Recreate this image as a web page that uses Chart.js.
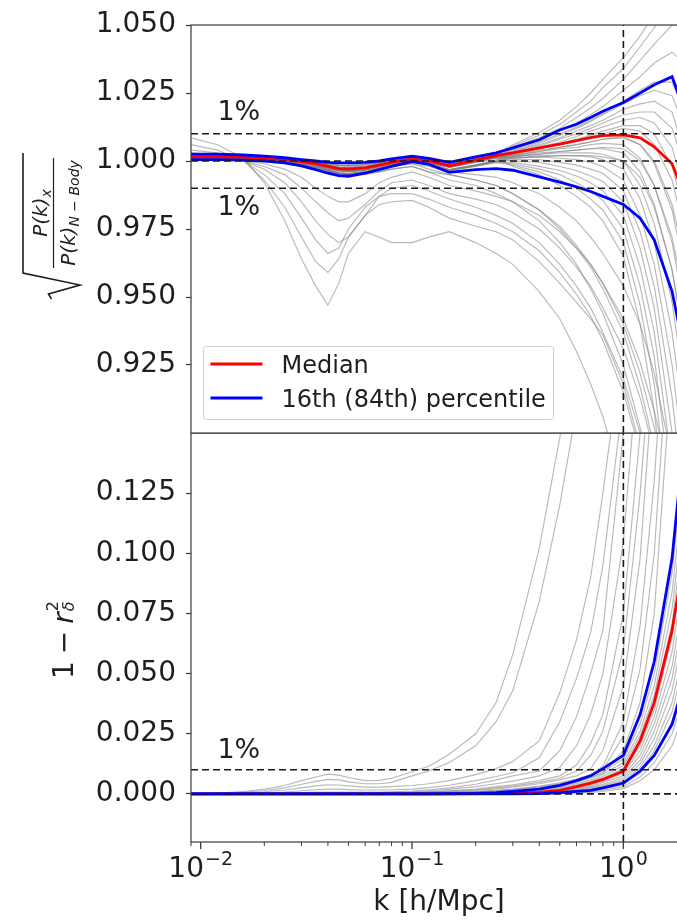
<!DOCTYPE html>
<html>
<head>
<meta charset="utf-8">
<script src="https://cdn.jsdelivr.net/npm/chart.js@4.4.0/dist/chart.umd.min.js"></script>
<style>
  html, body { margin: 0; padding: 0; background: #fff; overflow: hidden; }
  #wrap { position: relative; width: 677px; height: 920px; overflow: hidden; }
  canvas { position: absolute; left: 0; }
</style>
</head>
<body>
<div id="wrap">
  <canvas id="ratioChart" width="690" height="434" style="top:0"></canvas>
  <canvas id="corrChart" width="690" height="487" style="top:433px"></canvas>
</div>
<script>
// shared k grid [h/Mpc] for every curve
const kGrid = [0.009, 0.012, 0.016, 0.02, 0.025, 0.03, 0.035, 0.04, 0.045, 0.05, 0.06, 0.07, 0.08, 0.1, 0.12,
               0.15, 0.2, 0.25, 0.3, 0.4, 0.5, 0.6, 0.7, 0.8, 1.0, 1.2, 1.4, 1.7, 2.0];
const kMin = 0.009;
const kMax = 2.0;
const kRef = 1.0;
const xMajorTicks = [0.01, 0.1, 1];

// top panel: sqrt(P_x / P_Nbody)
const medianTop = [1.0015,1.0015,1.0013,1.0010,1.0005, 0.9998,0.9990,0.9980,0.9972,0.9970, 0.9975,0.9985,0.9995,1.0008,1.0000,
                   0.9982,1.0003,1.0020,1.0030,1.0048, 1.0062,1.0075,1.0086,1.0093,1.0096, 1.0085,1.0052,0.9990,0.9850];
const p84Top = [1.0025,1.0025,1.0022,1.0018,1.0012, 1.0005,1.0000,0.9995,0.9993,0.9993, 0.9995,1.0000,1.0008,1.0018,1.0010,
                0.9995,1.0015,1.0030,1.0048,1.0078, 1.0114,1.0135,1.0160,1.0183,1.0215, 1.0250,1.0280,1.0310,1.0160];
const p16Top = [1.0005,1.0005,1.0003,1.0000,0.9993, 0.9982,0.9968,0.9955,0.9946,0.9944, 0.9955,0.9968,0.9980,0.9998,0.9988,
                0.9958,0.9968,0.9972,0.9966,0.9942, 0.9922,0.9905,0.9888,0.9870,0.9840, 0.9790,0.9710,0.9520,0.9250];

const greyTop = [
  // runs with a dip near k ~ 0.04
  [1.0085,1.006,1.001,0.992,0.978, 0.964,0.954,0.947,0.955,0.966, 0.974,0.972,0.970,0.970,0.972, 0.974,0.970,0.966,0.962,0.952, 0.942,0.930,0.918,0.906,0.880, 0.850,0.820,0.780,0.740],
  [1.006,1.004,1.0,0.993,0.983, 0.972,0.963,0.959,0.964,0.972, 0.980,0.984,0.985,0.9855,0.983, 0.979,0.976,0.974,0.971,0.963, 0.955,0.948,0.942,0.936,0.918, 0.895,0.870,0.830,0.790],
  [1.004,1.003,1.0,0.995,0.988, 0.979,0.971,0.966,0.968,0.975, 0.983,0.987,0.988,0.988,0.986, 0.983,0.980,0.977,0.974,0.967, 0.959,0.951,0.943,0.934,0.915, 0.893,0.870,0.835,0.800],
  [1.003,1.002,1.0,0.997,0.992, 0.985,0.978,0.973,0.970,0.972, 0.980,0.987,0.990,0.991,0.989, 0.986,0.983,0.980,0.977,0.970, 0.962,0.954,0.946,0.937,0.920, 0.900,0.878,0.845,0.810],
  [1.002,1.002,1.0,0.998,0.995, 0.990,0.985,0.981,0.978,0.979, 0.984,0.989,0.992,0.993,0.991, 0.988,0.986,0.984,0.981,0.975, 0.968,0.961,0.954,0.946,0.931, 0.913,0.893,0.862,0.830],
  [1.002,1.001,1.0,0.999,0.997, 0.994,0.990,0.987,0.985,0.985, 0.988,0.992,0.994,0.996,0.994, 0.991,0.989,0.987,0.985,0.980, 0.974,0.968,0.962,0.955,0.942, 0.926,0.908,0.880,0.850],
  // runs falling away from k ~ 0.15
  [1.002,1.002,1.001,1.001,1.0, 0.999,0.998,0.997,0.996,0.996, 0.996,0.996,0.997,0.998,0.996, 0.993,0.991,0.988,0.985,0.978, 0.970,0.962,0.953,0.944,0.925, 0.902,0.880,0.845,0.810],
  [1.002,1.002,1.001,1.001,1.0, 0.999,0.998,0.997,0.997,0.997, 0.997,0.998,0.998,0.999,0.997, 0.995,0.993,0.991,0.988,0.982, 0.975,0.968,0.961,0.953,0.937, 0.917,0.895,0.860,0.825],
  [1.001,1.001,1.001,1.0,0.999, 0.998,0.997,0.996,0.995,0.995, 0.995,0.996,0.997,0.998,0.996, 0.995,0.993,0.991,0.988,0.982, 0.976,0.969,0.962,0.955,0.940, 0.922,0.902,0.870,0.835],
  [1.0015,1.0015,1.001,1.0005,1.0, 0.999,0.998,0.997,0.9965,0.9965, 0.997,0.998,0.998,0.999,0.998, 0.996,0.995,0.994,0.992,0.988, 0.983,0.978,0.972,0.966,0.954, 0.940,0.922,0.890,0.855],
  // the main fan
  [1.002,1.002,1.0018,1.0015,1.001, 1.0004,0.9997,0.999,0.9985,0.9984, 0.9988,0.9995,1.0003,1.0015,1.0007, 0.9992,1.0012,1.0027,1.006,1.0105, 1.015,1.020,1.025,1.030,1.038, 1.046,1.054,1.064,1.072],
  [1.0018,1.0018,1.0016,1.0013,1.0008, 1.0001,0.9993,0.9984,0.9977,0.9976, 0.998,0.999,0.9999,1.0011,1.0003, 0.9987,1.0006,1.0022,1.0055,1.0095, 1.0135,1.018,1.022,1.027,1.034, 1.042,1.049,1.058,1.063],
  [1.0021,1.002,1.0019,1.0015,1.001, 1.0003,0.9996,0.9989,0.9984,0.9983, 0.9987,0.9994,1.0002,1.0014,1.0006, 0.9991,1.0011,1.0025,1.005,1.0085, 1.012,1.016,1.0195,1.023,1.030, 1.037,1.043,1.050,1.050],
  [1.0012,1.0012,1.001,1.0007,1.0002, 0.9994,0.9985,0.9975,0.9966,0.9963, 0.9968,0.998,0.9992,1.0006,0.9997, 0.9978,0.9998,1.0015,1.0045,1.0075, 1.011,1.014,1.017,1.020,1.026, 1.031,1.036,1.040,1.035],
  [1.0017,1.0017,1.0015,1.0012,1.0007, 1.0,0.9992,0.9983,0.9976,0.9975, 0.9979,0.9989,0.9998,1.001,1.0002, 0.9986,1.0005,1.002,1.004,1.007, 1.010,1.0125,1.015,1.0175,1.022, 1.026,1.029,1.029,1.015],
  [1.0013,1.0013,1.0011,1.0008,1.0003, 0.9995,0.9986,0.9976,0.9967,0.9964, 0.9969,0.9981,0.9993,1.0007,0.9998, 0.9979,0.9999,1.0015,1.0035,1.006, 1.0085,1.011,1.013,1.015,1.019, 1.021,1.022,1.018,1.0],
  [1.0019,1.0019,1.0017,1.0014,1.0009, 1.0002,0.9995,0.9987,0.9981,0.998, 0.9985,0.9993,1.0001,1.0013,1.0005, 0.999,1.001,1.0024,1.003,1.005, 1.007,1.009,1.011,1.0125,1.015, 1.016,1.014,1.005,0.985],
  [1.0008,1.0008,1.0006,1.0003,0.9997, 0.9988,0.9978,0.9966,0.9956,0.9953, 0.996,0.9973,0.9986,1.0002,0.9992, 0.9968,0.9985,1.0,1.0025,1.0045, 1.006,1.0075,1.009,1.010,1.012, 1.011,1.006,0.993,0.97],
  [1.0016,1.0016,1.0014,1.0011,1.0006, 0.9999,0.9991,0.9982,0.9975,0.9974, 0.9978,0.9988,0.9997,1.0009,1.0001, 0.9985,1.0004,1.0019,1.002,1.004, 1.005,1.006,1.007,1.008,1.009, 1.006,0.999,0.982,0.955],
  [1.0011,1.0011,1.0009,1.0006,1.0001, 0.9993,0.9984,0.9974,0.9965,0.9962, 0.9967,0.9979,0.9991,1.0005,0.9996, 0.9977,0.9997,1.0013,1.002,1.0035, 1.0045,1.005,1.006,1.0065,1.006, 1.001,0.991,0.970,0.940],
  [1.0007,1.0007,1.0005,1.0002,0.9996, 0.9987,0.9977,0.9965,0.9955,0.9952, 0.9959,0.9972,0.9985,1.0001,0.9991, 0.9967,0.9984,0.9999,1.0015,1.003, 1.0035,1.004,1.0045,1.0045,1.003, 0.996,0.984,0.960,0.925],
  [1.0015,1.0015,1.0013,1.001,1.0005, 0.9998,0.999,0.998,0.9972,0.997, 0.9975,0.9985,0.9995,1.0008,1.0, 0.9982,1.0002,1.0016,1.0015,1.0025, 1.003,1.003,1.003,1.0025,1.0, 0.991,0.977,0.948,0.910],
  [1.001,1.001,1.0008,1.0005,1.0, 0.9992,0.9983,0.9973,0.9964,0.9961, 0.9966,0.9978,0.999,1.0004,0.9995, 0.9976,0.9996,1.0011,1.001,1.002, 1.002,1.002,1.0015,1.0005,0.997, 0.986,0.970,0.937,0.895],
  [1.0014,1.0014,1.0012,1.0009,1.0004, 0.9997,0.9989,0.9979,0.9971,0.9969, 0.9974,0.9984,0.9994,1.0007,0.9999, 0.9981,1.0,1.0014,1.001,1.0015, 1.001,1.0005,0.9995,0.998,0.993, 0.980,0.962,0.925,0.880],
  [1.0006,1.0006,1.0004,1.0001,0.9995, 0.9986,0.9976,0.9964,0.9954,0.9951, 0.9958,0.9971,0.9984,1.0,0.999, 0.9966,0.9983,0.9998,1.0005,1.0005, 0.9995,0.9985,0.997,0.9955,0.989, 0.974,0.954,0.913,0.865],
  [1.0011,1.0011,1.0009,1.0006,1.0001, 0.9993,0.9984,0.9974,0.9965,0.9962, 0.9967,0.9979,0.9991,1.0005,0.9996, 0.9977,0.9997,1.0012,1.0,0.9995, 0.998,0.9965,0.9945,0.9925,0.985, 0.968,0.946,0.900,0.850],
  [1.0005,1.0005,1.0003,1.0,0.9994, 0.9985,0.9975,0.9963,0.9953,0.995, 0.9957,0.997,0.9983,0.9999,0.9989, 0.9965,0.9982,0.9996,0.9995,0.998, 0.9965,0.9945,0.992,0.989,0.980, 0.961,0.937,0.888,0.835],
  [1.0009,1.0009,1.0007,1.0004,0.9998, 0.9989,0.9979,0.9967,0.9957,0.9954, 0.9961,0.9974,0.9987,1.0003,0.9993, 0.9969,0.9986,0.9999,0.999,0.997, 0.995,0.992,0.989,0.9855,0.975, 0.954,0.928,0.875,0.820],
  [1.0004,1.0004,1.0002,0.9999,0.9993, 0.9984,0.9974,0.9962,0.9952,0.9949, 0.9956,0.9969,0.9982,0.9998,0.9988, 0.9964,0.998,0.9994,0.9985,0.996, 0.993,0.990,0.986,0.982,0.970, 0.947,0.918,0.862,0.800],
  [1.001,1.001,1.0008,1.0005,1.0, 0.9992,0.9983,0.9973,0.9964,0.9961, 0.9966,0.9978,0.999,1.0004,0.9995, 0.9976,0.9995,1.001,0.998,0.995, 0.991,0.987,0.983,0.978,0.965, 0.940,0.908,0.850,0.790],
  [1.0018,1.0018,1.0016,1.0013,1.0008, 1.0001,0.9993,0.9984,0.9977,0.9976, 0.998,0.999,0.9999,1.0011,1.0003, 0.9987,1.0006,1.0022,1.0035,1.0065, 1.0095,1.012,1.0145,1.017,1.021, 1.024,1.026,1.024,1.010],
  [1.002,1.002,1.0018,1.0015,1.001, 1.0004,0.9997,0.999,0.9985,0.9984, 0.9988,0.9995,1.0003,1.0015,1.0007, 0.9992,1.0012,1.0024,1.003,1.0055, 1.008,1.010,1.012,1.014,1.017, 1.018,1.018,1.012,0.995],
  [1.0012,1.0012,1.001,1.0007,1.0002, 0.9994,0.9985,0.9975,0.9966,0.9963, 0.9968,0.998,0.9992,1.0006,0.9997, 0.9978,0.9998,1.0014,1.0025,1.0045, 1.0065,1.008,1.0095,1.011,1.013, 1.013,1.010,0.998,0.978],
  [1.0008,1.0008,1.0006,1.0003,0.9997, 0.9988,0.9978,0.9966,0.9956,0.9953, 0.996,0.9973,0.9986,1.0002,0.9992, 0.9968,0.9985,1.0005,1.002,1.0035, 1.005,1.006,1.007,1.008,1.0085, 1.006,1.0,0.984,0.960],
  [1.0017,1.0017,1.0015,1.0012,1.0007, 1.0,0.9992,0.9983,0.9976,0.9975, 0.9979,0.9989,0.9998,1.001,1.0002, 0.9986,1.0004,1.0015,1.0015,1.0025, 1.0035,1.004,1.0045,1.005,1.0045, 1.0,0.991,0.972,0.945],
  [1.0007,1.0007,1.0005,1.0002,0.9996, 0.9987,0.9977,0.9965,0.9955,0.9952, 0.9959,0.9972,0.9985,1.0001,0.9991, 0.9967,0.9984,1.0,1.001,1.0015, 1.002,1.002,1.002,1.0015,1.0, 0.994,0.983,0.960,0.930]
];

// bottom panel: 1 - r^2
const medianBot = [0,0,0,0,0, 0,0,0,0,0, 0,0,0,0,0, 0,0.0001,0.0002,0.0003,0.0006, 0.0015,0.003,0.0045,0.006,0.0095, 0.022,0.038,0.068,0.105];
const p84Bot = [0,0,0,0,0, 0,0,0,0,0, 0,0,0,0,0, 0.0001,0.0002,0.0005,0.001,0.002, 0.0035,0.0055,0.0075,0.0105,0.016, 0.033,0.055,0.098,0.16];
const p16Bot = [0,0,0,0,0, 0,0,0,0,0, 0,0,0,0,0, 0,0,0,0,0.0001, 0.0005,0.001,0.0015,0.0025,0.0045, 0.0095,0.016,0.029,0.05];

const greyBot = [
  [0,0.0003,0.001,0.002,0.0035, 0.0055,0.007,0.0082,0.0078,0.0068, 0.0055,0.0056,0.0065,0.0092,0.0115, 0.0165,0.025,0.038,0.058,0.102, 0.148,0.19,0.23,0.27,0.33, 0.38,0.42,0.47,0.5],
  [0,0.0002,0.0007,0.0014,0.0025, 0.004,0.0052,0.006,0.0058,0.005, 0.0042,0.0042,0.0048,0.0075,0.0095, 0.013,0.02,0.03,0.043,0.08, 0.12,0.16,0.2,0.24,0.3, 0.35,0.39,0.44,0.47],
  [0,0.0001,0.0004,0.0009,0.0016, 0.0025,0.0033,0.0038,0.0037,0.0033, 0.0028,0.0028,0.003,0.0035,0.0042, 0.0055,0.008,0.0105,0.0135,0.022, 0.042,0.064,0.09,0.125,0.19, 0.25,0.3,0.36,0.4],
  [0,0,0.0002,0.0004,0.0008, 0.0013,0.0017,0.002,0.002,0.0018, 0.0016,0.0016,0.0017,0.002,0.0026, 0.0036,0.0055,0.0072,0.0088,0.015, 0.03,0.048,0.067,0.095,0.165, 0.23,0.29,0.35,0.4],
  [0,0,0,0.0001,0.0003, 0.0005,0.0007,0.0008,0.0008,0.0008, 0.0008,0.0008,0.0009,0.0012,0.0017, 0.0025,0.004,0.0058,0.0075,0.0095, 0.018,0.032,0.05,0.068,0.15, 0.22,0.28,0.34,0.39],
  [0,0,0,0,0.0001, 0.0002,0.0003,0.0004,0.0004,0.0004, 0.0004,0.0005,0.0006,0.0009,0.0013, 0.0019,0.003,0.0042,0.0053,0.0075, 0.011,0.02,0.033,0.05,0.105, 0.19,0.26,0.33,0.38],
  [0,0,0,0,0, 0.0001,0.0002,0.0002,0.0002,0.0002, 0.0003,0.0003,0.0004,0.0006,0.0009, 0.0013,0.002,0.003,0.0038,0.0055, 0.0075,0.012,0.021,0.033,0.075, 0.15,0.23,0.31,0.36],
  [0,0,0,0,0, 0,0.0001,0.0001,0.0001,0.0002, 0.0002,0.0003,0.0003,0.0005,0.0007, 0.0011,0.0017,0.0025,0.0033,0.0048, 0.0065,0.0095,0.016,0.026,0.06, 0.125,0.2,0.3,0.35],
  [0,0,0,0,0, 0,0.0001,0.0001,0.0001,0.0001, 0.0002,0.0002,0.0003,0.0004,0.0006, 0.0009,0.0014,0.0021,0.0028,0.0042, 0.0058,0.0075,0.0105,0.018,0.045, 0.098,0.18,0.28,0.34],
  [0,0,0,0,0, 0,0,0,0,0, 0.0001,0.0001,0.0002,0.0003,0.0004, 0.0006,0.001,0.0015,0.002,0.0032, 0.0046,0.0062,0.008,0.0115,0.03, 0.07,0.13,0.24,0.3],
  [0,0,0,0,0, 0,0,0,0,0, 0.0001,0.0001,0.0001,0.0002,0.0003, 0.0005,0.0009,0.0013,0.0018,0.0029, 0.0042,0.0057,0.0074,0.01,0.024, 0.052,0.1,0.21,0.28],
  [0,0,0,0,0, 0,0,0,0,0, 0,0.0001,0.0001,0.0002,0.0003, 0.0005,0.0008,0.0012,0.0016,0.0026, 0.0038,0.0052,0.0068,0.0085,0.018, 0.038,0.075,0.18,0.26],
  [0,0,0,0,0, 0,0,0,0,0, 0,0,0.0001,0.0001,0.0002, 0.0003,0.0005,0.0008,0.0011,0.0016, 0.003,0.0048,0.0066,0.0092,0.0145, 0.029,0.050,0.092,0.15],
  [0,0,0,0,0, 0,0,0,0,0, 0,0,0,0.0001,0.0001, 0.0002,0.0004,0.0006,0.0009,0.0013, 0.0026,0.0042,0.0058,0.0082,0.013, 0.026,0.045,0.084,0.14],
  [0,0,0,0,0, 0,0,0,0,0, 0,0,0,0.0001,0.0001, 0.0002,0.0003,0.0005,0.0007,0.0011, 0.0022,0.0037,0.0052,0.0073,0.0118, 0.024,0.041,0.077,0.13],
  [0,0,0,0,0, 0,0,0,0,0, 0,0,0,0,0.0001, 0.0001,0.0002,0.0004,0.0006,0.0009, 0.0019,0.0033,0.0047,0.0066,0.0106, 0.022,0.038,0.071,0.12],
  [0,0,0,0,0, 0,0,0,0,0, 0,0,0,0,0, 0.0001,0.0002,0.0003,0.0005,0.0007, 0.0016,0.0029,0.0042,0.0059,0.0096, 0.020,0.035,0.065,0.11],
  [0,0,0,0,0, 0,0,0,0,0, 0,0,0,0,0, 0.0001,0.0001,0.0002,0.0004,0.0006, 0.0013,0.0025,0.0037,0.0052,0.0086, 0.018,0.032,0.059,0.10],
  [0,0,0,0,0, 0,0,0,0,0, 0,0,0,0,0, 0,0.0001,0.0002,0.0003,0.0005, 0.0011,0.0021,0.0032,0.0046,0.0076, 0.016,0.029,0.053,0.09],
  [0,0,0,0,0, 0,0,0,0,0, 0,0,0,0,0, 0,0.0001,0.0001,0.0002,0.0004, 0.0009,0.0018,0.0028,0.004,0.0067, 0.014,0.026,0.048,0.082],
  [0,0,0,0,0, 0,0,0,0,0, 0,0,0,0,0, 0,0,0.0001,0.0002,0.0003, 0.0007,0.0015,0.0024,0.0035,0.0059, 0.0125,0.023,0.043,0.074],
  [0,0,0,0,0, 0,0,0,0,0, 0,0,0,0,0, 0,0,0.0001,0.0001,0.0002, 0.0006,0.0012,0.002,0.003,0.0052, 0.011,0.020,0.038,0.066],
  [0,0,0,0,0, 0,0,0,0,0, 0,0,0,0,0, 0,0,0,0.0001,0.0001, 0.0004,0.0009,0.0016,0.0025,0.0045, 0.0098,0.018,0.034,0.06],
  [0,0,0,0,0, 0,0,0,0,0, 0,0,0,0,0, 0,0,0,0,0.0001, 0.0003,0.0007,0.0012,0.002,0.0038, 0.0086,0.016,0.030,0.054],
  [0,0,0,0,0, 0,0,0,0,0, 0,0,0,0,0, 0,0,0,0,0, 0.0002,0.0005,0.0009,0.0015,0.003, 0.007,0.013,0.025,0.045],
  [0,0,0,0,0, 0,0,0,0,0, 0,0,0,0,0, 0,0,0,0,0, 0.0001,0.0003,0.0006,0.001,0.0022, 0.0055,0.010,0.02,0.037]
];

const refLevelsTop = [0.99, 1.0, 1.01];
const refLevelsBot = [0.0, 0.01];
const yTicksTop = [0.925, 0.95, 0.975, 1.0, 1.025, 1.05];
const yTicksBot = [0, 0.025, 0.05, 0.075, 0.1, 0.125];
const notesTop = [{ k: 0.012, v: 1.015, text: '1%' }, { k: 0.012, v: 0.98, text: '1%' }];
const notesBot = [{ k: 0.012, v: 0.015, text: '1%' }];

// sanity check on the hand-typed tables
[medianTop, p84Top, p16Top, medianBot, p84Bot, p16Bot, ...greyTop, ...greyBot].forEach((arr, i) => {
  if (arr.length !== kGrid.length) throw new Error('series ' + i + ' has ' + arr.length + ' values');
});

const FONT = 'DejaVu Sans';
const INK = '#1e1e1e';
const FRAME = '#3a3a3a';
const GREY = 'rgba(128,128,128,0.55)';
Chart.defaults.font.family = FONT;
Chart.defaults.color = INK;

const points = vals => kGrid.map((k, i) => ({ x: k, y: vals[i] }));
const lineStyle = { pointRadius: 0, tension: 0, fill: false, clip: 0 };

function buildDatasets(grey, median, p84, p16, levels, yLo, yHi) {
  const sets = [];
  const dash = { borderColor: '#1a1a1a', borderWidth: 1.6, borderDash: [7, 4], order: 0, ...lineStyle };
  levels.forEach(v => sets.push({ data: [{ x: kMin, y: v }, { x: kMax, y: v }], ...dash }));
  sets.push({ data: [{ x: kRef, y: yLo }, { x: kRef, y: yHi }], ...dash });
  sets.push({ label: '16th (84th) percentile', legendRank: 1, data: points(p84), borderColor: '#0000ff', borderWidth: 2.8, order: 1, ...lineStyle });
  sets.push({ label: '16th (84th) percentile', data: points(p16), borderColor: '#0000ff', borderWidth: 2.8, order: 1, ...lineStyle });
  sets.push({ label: 'Median', legendRank: 0, data: points(median), borderColor: '#ff0000', borderWidth: 2.8, order: 2, ...lineStyle });
  grey.forEach(vals => sets.push({ data: points(vals), borderColor: GREY, borderWidth: 1.15, order: 3, ...lineStyle }));
  return sets;
}

// text pieces laid end to end, rotated 90 degrees anticlockwise, centred on centerY
function drawAlong(ctx, baseX, centerY, pieces) {
  let total = 0;
  pieces.forEach(p => {
    ctx.font = p.font;
    p.w = ctx.measureText(p.t).width;
    total += (p.stay ? 0 : p.w) + (p.gap || 0);
  });
  ctx.save();
  ctx.translate(baseX, centerY);
  ctx.rotate(-Math.PI / 2);
  ctx.textAlign = 'left';
  ctx.textBaseline = 'alphabetic';
  let u = -total / 2;
  pieces.forEach(p => {
    ctx.font = p.font;
    ctx.fillText(p.t, u, p.dy || 0);
    if (!p.stay) u += p.w;
    u += p.gap || 0;
  });
  ctx.restore();
}

function drawRatioLabel(ctx, a) {
  const cy = (a.top + a.bottom) / 2 - 16;
  ctx.save();
  ctx.fillStyle = INK;
  ctx.strokeStyle = INK;
  drawAlong(ctx, 47, cy, [
    { t: 'P(k)', font: `italic 20px "${FONT}"` },
    { t: 'x', font: `italic 14px "${FONT}"`, dy: 4 }
  ]);
  drawAlong(ctx, 75, cy, [
    { t: 'P(k)', font: `italic 20px "${FONT}"` },
    { t: 'N \u2212 Body', font: `italic 14px "${FONT}"`, dy: 4 }
  ]);
  ctx.lineWidth = 1.2;
  ctx.beginPath();
  ctx.moveTo(53.5, cy - 55);
  ctx.lineTo(53.5, cy + 55);
  ctx.stroke();
  ctx.lineWidth = 1.6;
  ctx.lineJoin = 'miter';
  ctx.beginPath();
  ctx.moveTo(51.5, cy + 86);
  ctx.lineTo(48.5, cy + 81);
  ctx.lineTo(80, cy + 72);
  ctx.lineTo(23, cy + 60);
  ctx.lineTo(23, cy - 60);
  ctx.stroke();
  ctx.restore();
}

function drawCorrLabel(ctx, a) {
  const cy = (a.top + a.bottom) / 2 + 2.5;
  ctx.save();
  ctx.fillStyle = INK;
  drawAlong(ctx, 73, cy, [
    { t: '1', font: `28px "${FONT}"`, gap: 7 },
    { t: '\u2212', font: `28px "${FONT}"`, gap: 7 },
    { t: 'r', font: `italic 28px "${FONT}"`, gap: 1 },
    { t: '\u03b4', font: `italic 16px "${FONT}"`, dy: 1, stay: true },
    { t: '2', font: `16px "${FONT}"`, dy: -15 }
  ]);
  ctx.restore();
}

const decor = {
  id: 'decor',
  afterDraw(chart, args, opts) {
    const { ctx, chartArea: a } = chart;
    const xs = chart.scales.x;
    const ys = chart.scales.y;
    ctx.save();
    // frame
    ctx.strokeStyle = FRAME;
    ctx.lineWidth = 1.2;
    ctx.strokeRect(a.left, a.top, a.right - a.left, a.bottom - a.top);

    // 1% notes
    ctx.fillStyle = INK;
    ctx.font = `27px "${FONT}"`;
    ctx.textAlign = 'left';
    ctx.textBaseline = 'alphabetic';
    (opts.notes || []).forEach(n => ctx.fillText(n.text, xs.getPixelForValue(n.k), ys.getPixelForValue(n.v)));

    // log x axis: tick marks and 10^n labels
    if (opts.xAxis) {
      ctx.strokeStyle = FRAME;
      for (let e = -3; e <= 0; e++) {
        for (let m = 1; m <= 9; m++) {
          const k = m * Math.pow(10, e);
          if (k < kMin * 0.999 || k > kMax * 1.001) continue;
          const px = xs.getPixelForValue(k);
          ctx.lineWidth = m === 1 ? 1.3 : 1;
          ctx.beginPath();
          ctx.moveTo(px, a.bottom);
          ctx.lineTo(px, a.bottom + (m === 1 ? 7 : 4));
          ctx.stroke();
        }
      }
      xMajorTicks.forEach(k => {
        const px = xs.getPixelForValue(k);
        const ex = Math.round(Math.log10(k));
        const sup = ex < 0 ? '\u2212' + (-ex) : String(ex);
        ctx.font = `28px "${FONT}"`;
        const w1 = ctx.measureText('10').width;
        ctx.font = `19px "${FONT}"`;
        const w2 = ctx.measureText(sup).width;
        const x0 = px - (w1 + w2 + 1) / 2;
        ctx.font = `28px "${FONT}"`;
        ctx.fillText('10', x0, a.bottom + 35);
        ctx.font = `19px "${FONT}"`;
        ctx.fillText(sup, x0 + w1 + 1, a.bottom + 23);
      });
    }

    // inset legend
    if (opts.legend) {
      const entries = chart.data.datasets.filter(d => d.legendRank !== undefined)
        .sort((p, q) => p.legendRank - q.legendRank);
      const bx = a.left + 12.5, by = a.bottom - 86.5, bw = 350, bh = 73;
      ctx.fillStyle = 'rgba(255,255,255,0.85)';
      ctx.strokeStyle = '#cfcfcf';
      ctx.lineWidth = 1;
      ctx.beginPath();
      ctx.roundRect(bx, by, bw, bh, 3);
      ctx.fill();
      ctx.stroke();
      entries.forEach((d, i) => {
        const ly = by + 17.5 + i * 34;
        ctx.strokeStyle = d.borderColor;
        ctx.lineWidth = 3;
        ctx.beginPath();
        ctx.moveTo(bx + 7, ly);
        ctx.lineTo(bx + 59, ly);
        ctx.stroke();
        ctx.fillStyle = INK;
        ctx.font = `24px "${FONT}"`;
        ctx.fillText(d.label, bx + 78, ly + 9);
      });
    }

    if (opts.yLabel === 'ratio') drawRatioLabel(ctx, a);
    if (opts.yLabel === 'corr') drawCorrLabel(ctx, a);
    ctx.restore();
  }
};

function buildOptions(cfg) {
  return {
    responsive: false,
    animation: false,
    devicePixelRatio: 1,
    layout: { padding: cfg.padding },
    plugins: {
      legend: { display: false },
      tooltip: { enabled: false },
      decor: cfg.decor
    },
    scales: {
      x: {
        type: 'logarithmic',
        min: kMin,
        max: kMax,
        display: cfg.showX,
        ticks: { display: false },
        grid: { display: false },
        border: { display: false },
        title: { display: cfg.showX, text: 'k [h/Mpc]', font: { size: 28 }, color: INK, padding: 0 },
        afterFit: s => { s.height = cfg.showX ? 78 : 0; }
      },
      y: {
        min: cfg.yMin,
        max: cfg.yMax,
        afterBuildTicks: s => { s.ticks = cfg.yTicks.map(v => ({ value: v })); },
        afterFit: s => { s.width = 191; s.paddingTop = 0; s.paddingBottom = 0; },
        ticks: { font: { size: 28 }, color: INK, padding: 10, callback: v => Number(v).toFixed(3) },
        grid: { drawOnChartArea: false, drawTicks: true, tickLength: 5, tickColor: FRAME, tickWidth: 1.2 },
        border: { display: false }
      }
    }
  };
}

new Chart(document.getElementById('ratioChart'), {
  type: 'line',
  data: { datasets: buildDatasets(greyTop, medianTop, p84Top, p16Top, refLevelsTop, 0.9, 1.05) },
  options: buildOptions({
    padding: { top: 25, right: 3, bottom: 1, left: 0 },
    showX: false, yMin: 0.9, yMax: 1.05, yTicks: yTicksTop,
    decor: { notes: notesTop, legend: true, yLabel: 'ratio' }
  }),
  plugins: [decor]
});

new Chart(document.getElementById('corrChart'), {
  type: 'line',
  data: { datasets: buildDatasets(greyBot, medianBot, p84Bot, p16Bot, refLevelsBot, -0.02, 0.15) },
  options: buildOptions({
    padding: { top: 0, right: 3, bottom: 0, left: 0 },
    showX: true, yMin: -0.02, yMax: 0.15, yTicks: yTicksBot,
    decor: { notes: notesBot, xAxis: true, yLabel: 'corr' }
  }),
  plugins: [decor]
});
</script>
</body>
</html>
